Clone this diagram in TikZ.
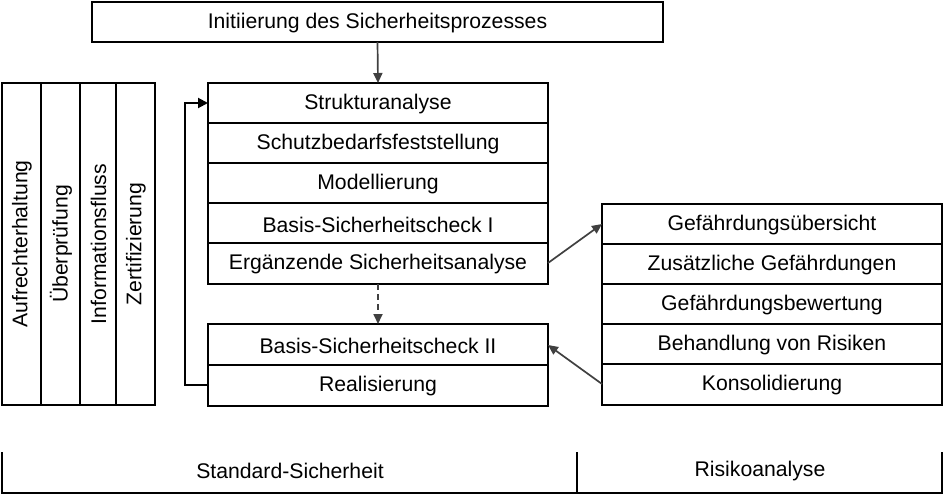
\documentclass[tikz,border=0pt]{standalone}
\usepackage{fontspec}
\setmainfont{Liberation Sans}
\usetikzlibrary{arrows.meta}
\begin{document}
\begin{tikzpicture}[x=1pt,y=-1pt,
  box/.style={draw=black,line width=2pt,fill=white,inner sep=0pt},
  lbl/.style={font=\fontsize{21.2}{24}\selectfont},
  conn/.style={draw=black!75,line width=1.7pt,-{Triangle[length=10pt,width=9pt]}},
  fb/.style={draw=black,line width=2pt,-{Triangle[length=10pt,width=10pt]}},
  tick/.style={draw=black,line width=2pt}]
\useasboundingbox (0,0) rectangle (944,495);
% top
\draw[box] (92,2) rectangle (663,42);
\node[lbl] (init) at (377.5,23) {Initiierung des Sicherheitsprozesses};
\coordinate (initb) at (377.5,42);
% left columns
\draw[box] (2,83) rectangle (155,405);
\draw[line width=2pt] (41,83) -- (41,405) (80,83) -- (80,405) (116,83) -- (116,405);
\node[lbl,rotate=90] (c1) at (22,244) {Aufrechterhaltung};
\node[lbl,rotate=90] (c2) at (61,244) {Überprüfung};
\node[lbl,rotate=90] (c3) at (98.5,244) {Informationsfluss};
\node[lbl,rotate=90] (c4) at (136,244) {Zertifizierung};
% middle stack
\foreach \y/\n/\t in {83/m1/Strukturanalyse,123/m2/Schutzbedarfsfeststellung,163/m3/Modellierung,203/m4/Basis-Sicherheitscheck I,243/m5/Ergänzende Sicherheitsanalyse}{
  \draw[box] (208,\y) rectangle (548,\y+41);
  \node[lbl] (\n) at (378,\y+21.5) {\t};
}
\foreach \y/\n/\t in {324/b1/Basis-Sicherheitscheck II,365/b2/Realisierung}{
  \draw[box] (208,\y) rectangle (548,\y+41);
  \node[lbl] (\n) at (378,\y+21.5) {\t};
}
% right stack
\foreach \y/\n/\t in {204/r1/Gefährdungsübersicht,244/r2/Zusätzliche Gefährdungen,284/r3/Gefährdungsbewertung,324/r4/Behandlung von Risiken,364/r5/Konsolidierung}{
  \draw[box] (602,\y) rectangle (942,\y+41);
  \node[lbl] (\n) at (772,\y+21.5) {\t};
}
% coordinates for connectors
\coordinate (m1t) at (378,83);
\coordinate (m1l) at (208,103);
\coordinate (m5b) at (378,284);
\coordinate (m5r) at (548,263);
\coordinate (b1t) at (378,324);
\coordinate (b1r) at (548,345);
\coordinate (b2l) at (208,385);
\coordinate (r1l) at (602,224);
\coordinate (r5l) at (602,384);
\coordinate (fbx) at (185,385);
\coordinate (fbt) at (185,103);
% connectors
\draw[conn] (initb) -- (m1t);
\draw[conn,dashed,dash pattern=on 6pt off 4pt] (m5b) -- (b1t);
\draw[conn] (m5r) -- (r1l);
\draw[conn] (r5l) -- (b1r);
\draw[fb] (b2l) -- (fbx) -- (fbt) -- (m1l);
% bottom bracket
\draw[tick] (2,452) -- (2,492.5) -- (942,492.5) -- (942,452);
\draw[tick] (577,452) -- (577,492.5);
\node[lbl] (std) at (290,471) {Standard-Sicherheit};
\node[lbl] (risk) at (760,471) {Risikoanalyse};
\end{tikzpicture}
\end{document}
